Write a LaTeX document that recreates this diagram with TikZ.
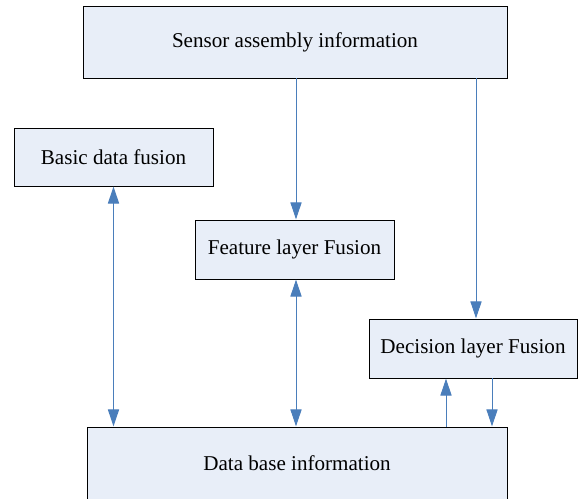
\documentclass[tikz,border=0pt]{standalone}
\usepackage{fontspec}
\setmainfont{Liberation Serif}
\usetikzlibrary{arrows.meta}
\definecolor{boxfill}{HTML}{E8EEF8}
\definecolor{arrblue}{HTML}{4A7EBB}
\begin{document}
\begin{tikzpicture}[x=1cm,y=1cm,
  blk/.style={draw=black,line width=0.7pt,fill=boxfill,inner sep=0pt,
    font=\fontsize{15}{18}\selectfont},
  arr/.style={draw=arrblue,line width=0.7pt,-{Triangle[length=0.43cm,width=0.28cm]}},
  dbl/.style={draw=arrblue,line width=0.7pt,
    {Triangle[length=0.43cm,width=0.28cm]}-{Triangle[length=0.43cm,width=0.28cm]}}]
\useasboundingbox (0,0) rectangle (14.45,-12.475);

\node[blk,minimum width=10.6cm,minimum height=1.8cm] (sensor) at (7.375,-1.05) {Sensor assembly information};

\node[blk,minimum width=4.975cm,minimum height=1.45cm] (basic) at (2.8375,-3.925) {Basic data fusion};

\node[blk,minimum width=4.975cm,minimum height=1.475cm] (feature) at (7.3625,-6.2375) {Feature layer Fusion};

\node[blk,minimum width=5.2cm,minimum height=1.475cm] (decision) at (11.825,-8.7125) {Decision layer Fusion};

\node[blk,minimum width=10.5cm,minimum height=1.8cm] (base) at (7.425,-11.575) {Data base information};

\draw[arr] (sensor.south -| 7.4,0) -- (feature.north -| 7.4,0);
\draw[arr] (sensor.south -| 11.9,0) -- (decision.north -| 11.9,0);
\draw[dbl] (basic.south) -- (basic.south |- base.north);
\draw[dbl] (feature.south -| 7.4,0) -- (base.north -| 7.4,0);
\draw[arr] (base.north -| 11.15,0) -- (decision.south -| 11.15,0);
\draw[arr] (decision.south -| 12.3,0) -- (base.north -| 12.3,0);
\end{tikzpicture}
\end{document}
